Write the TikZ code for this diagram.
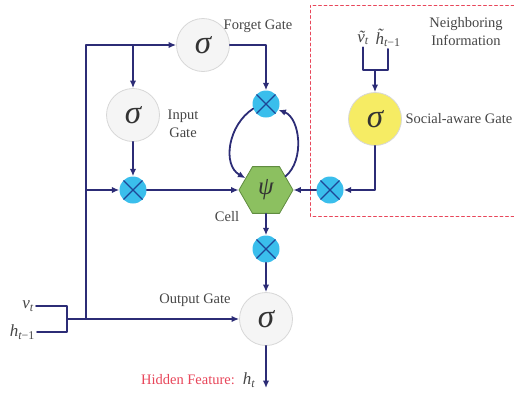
\documentclass[tikz,border=0pt]{standalone}
\usepackage{fontspec}
\setmainfont{Liberation Serif}
\usetikzlibrary{shapes.geometric, arrows.meta}

\definecolor{wireblue}{RGB}{44,44,118}
\definecolor{gatefill}{RGB}{245,245,245}
\definecolor{gateline}{RGB}{215,215,215}
\definecolor{mulfill}{RGB}{58,190,236}
\definecolor{mulcross}{RGB}{30,70,150}
\definecolor{cellfill}{RGB}{140,192,96}
\definecolor{cellline}{RGB}{96,140,64}
\definecolor{socialfill}{RGB}{246,236,100}
\definecolor{boxred}{RGB}{232,70,90}
\definecolor{labelgray}{RGB}{70,70,70}

\begin{document}
\begin{tikzpicture}[x=1pt, y=-1pt, >={Latex[length=7.5pt, width=6.5pt]}, line cap=round, line join=round]

% --- Global TikZ Styles ---
\tikzset{
    wire/.style={
        draw=wireblue,
        line width=1.8pt
    },
    gate/.style={
        circle,
        draw=gateline,
        fill=gatefill,
        line width=0.8pt,
        minimum size=53pt,
        inner sep=0pt,
        text=black!80,
        font=\fontsize{33}{33}\selectfont\itshape
    },
    socialgate/.style={
        gate,
        fill=socialfill
    },
    mult/.style={
        circle,
        fill=mulfill,
        minimum size=27pt,
        inner sep=0pt,
        path picture={
            \draw[draw=mulcross, line width=1.4pt]
                (path picture bounding box.north west) -- (path picture bounding box.south east)
                (path picture bounding box.north east) -- (path picture bounding box.south west);
        }
    },
    cellnode/.style={
        regular polygon,
        regular polygon sides=6,
        minimum size=54pt,
        inner sep=0pt,
        fill=cellfill,
        draw=cellline,
        line width=0.8pt,
        text=black!80,
        font=\fontsize{25}{25}\selectfont\itshape
    },
    lbl/.style={
        text=labelgray,
        font=\fontsize{14.5}{18}\selectfont
    },
    mathlbl/.style={
        text=labelgray,
        inner sep=2pt,
        font=\fontsize{17}{20}\selectfont\itshape
    },
    boxline/.style={
        draw=boxred,
        line width=0.9pt,
        dash pattern=on 3pt off 2.5pt
    }
}

\useasboundingbox (0,0) rectangle (514,394);

% =========================================================================
% --- Poorten en cel ---
% =========================================================================

\node[gate] (fg) at (203,45) {σ};
\node[gate] (ig) at (133,115) {σ};
\node[gate] (og) at (266,319) {σ};
\node[socialgate] (sg) at (375,119) {σ};

\node[cellnode] (cell) at (266,190) {ψ};

\node[mult] (fmul) at (266,104) {};
\node[mult] (imul) at (133,190) {};
\node[mult] (omul) at (266,249) {};
\node[mult] (smul) at (330,190) {};

% --- Labels ---
\node[lbl] (fglbl) at (258,26) {Forget Gate};
\node[lbl, align=center] (iglbl) at (183,124) {Input\\Gate};
\node[lbl] (oglbl) at (195,300) {Output Gate};
\node[lbl] (celllbl) at (227,217) {Cell};
\node[lbl, anchor=west] (sglbl) at (402,119) {Social-aware Gate};
\node[lbl, align=center] (nblbl) at (466,32) {Neighboring\\Information};
\node[lbl, text=boxred] (hidlbl) at (188,380) {Hidden Feature:};
\node[mathlbl] (ht) at (249,380) {h\textsubscript{t}};

% --- Ingangen ---
\node[mathlbl, anchor=east] (vt) at (36,306) {v\textsubscript{t}};
\node[mathlbl, anchor=east] (htm) at (37,332) {h\textsubscript{t\upshape −1}};
\node[mathlbl] (nvt) at (363,38) {ṽ\textsubscript{t}};
\node[mathlbl] (nhtm) at (388,38) {h̃\textsubscript{t\upshape −1}};

% --- Hulppunten ---
\coordinate (joinv) at (67,306);
\coordinate (joinmid) at (67,319);
\coordinate (trunkbot) at (86,319);
\coordinate (trunkmid) at (86,190);
\coordinate (trunktop) at (86,45);
\coordinate (igsplit) at (133,45);
\coordinate (nmid) at (375,70);
\coordinate (hout) at (266,388);

% --- Verbindingen links ---
\draw[wire] (vt) -- (joinv) |- (htm);
\draw[wire, ->] (joinmid) -- (og);
\draw[wire] (trunkbot) -- (trunktop);
\draw[wire, ->] (trunktop) -- (fg);
\draw[wire, ->] (igsplit) -- (ig);
\draw[wire, ->] (trunkmid) -- (imul);
\draw[wire, ->] (ig) -- (imul);
\draw[wire, ->] (imul) -- (cell);

% --- Vergeetlus ---
\draw[wire, ->] (fmul.200) .. controls (228,125) and (222,165) .. (cell.150);
\draw[wire, ->] (cell.35) .. controls (305,160) and (300,118) .. (fmul.-25);
\draw[wire, ->] (fg) -| (fmul);

% --- Uitgang ---
\draw[wire, ->] (cell) -- (omul);
\draw[wire, ->] (omul) -- (og);
\draw[wire, ->] (og) -- (hout);

% =========================================================================
% --- Buurinformatie ---
% =========================================================================

\draw[boxline] (514,5) -- (310,5) -- (310,216) -- (514,216);

\draw[wire] (nvt) |- (nhtm |- nmid) -- (nhtm);
\draw[wire, ->] (nmid) -- (sg);
\draw[wire, ->] (sg) |- (smul);
\draw[wire, ->] (smul) -- (cell);

\end{tikzpicture}
\end{document}
